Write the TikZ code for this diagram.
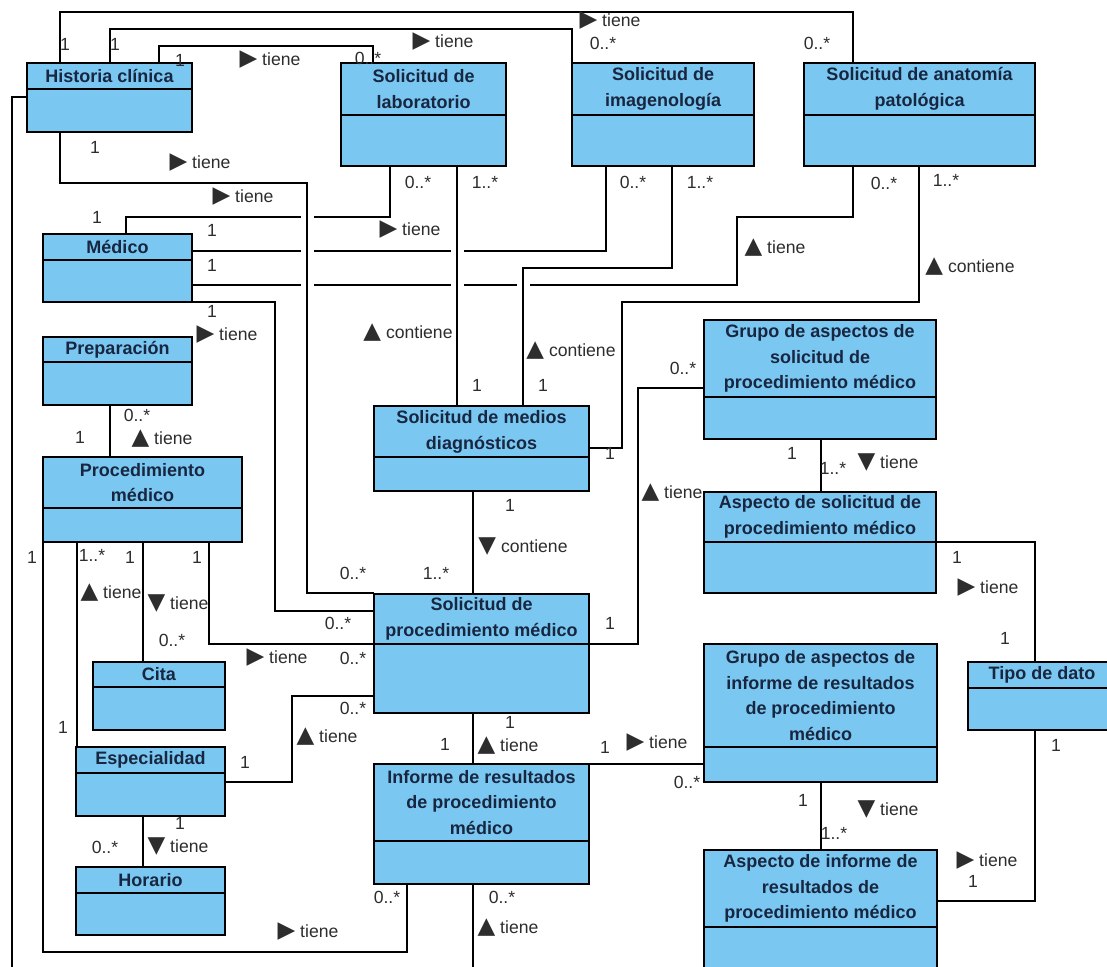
\documentclass[tikz,border=0pt]{standalone}
\usepackage{fontspec}
\setmainfont{Liberation Sans}
\newfontfamily\trifont{DejaVu Sans}
\usetikzlibrary{calc}

\definecolor{clsblue}{RGB}{122,200,242}
\definecolor{clsink}{RGB}{24,38,64}
\definecolor{lblink}{RGB}{45,45,45}

\newcommand{\triR}{{\trifont\fontsize{11.5}{11.5}\selectfont\char"25B6}}
\newcommand{\triU}{{\trifont\fontsize{11.5}{11.5}\selectfont\char"25B2}}
\newcommand{\triD}{{\trifont\fontsize{11.5}{11.5}\selectfont\char"25BC}}

% name, x1, y1, x2, y2, y of divider, title
\newcommand{\umlclass}[7]{%
  \node[clsbox, minimum width={(#4-#2)*0.5pt}, minimum height={(#5-#3)*0.5pt}] (#1) at (#2,#3) {};
  \draw[clsline] (#1.west |- 0,#6) -- (#1.east |- 0,#6);
  \node[clstitle] (#1-t) at ({(#2+#4)/2},{(#3+#6)/2}) {#7};
}

\tikzset{
  clsbox/.style={draw=black, fill=clsblue, line width=1pt, anchor=north west,
    inner sep=0pt, outer sep=0pt},
  clsline/.style={line width=1pt},
  clstitle/.style={align=center, text=clsink, inner sep=0pt,
    font=\fontsize{9}{12.9}\selectfont\bfseries},
  lnk/.style={line width=0.9pt},
  mult/.style={text=lblink, inner sep=0pt, font=\fontsize{8.8}{10}\selectfont},
  verb/.style={text=lblink, inner sep=0pt, font=\fontsize{8.8}{10}\selectfont},
}

\begin{document}
\begin{tikzpicture}[x=0.5pt, y=-0.5pt]
  \useasboundingbox (0,0) rectangle (1107,967);
  \fill[white] (0,0) rectangle (1107,967);
  \clip (0,0) rectangle (1107,967);

  % classes
  \umlclass{hc}{27}{63}{192}{132}{89}{Historia clínica}
  \umlclass{solLab}{341}{63}{506}{166}{115}{Solicitud de\\laboratorio}
  \umlclass{solImg}{572}{63}{754}{166}{115}{Solicitud de\\imagenología}
  \umlclass{solAnat}{804}{63}{1035}{166}{115}{Solicitud de anatomía\\patológica}
  \umlclass{medico}{43}{234}{192}{302}{260}{Médico}
  \umlclass{prep}{43}{337}{192}{405}{362}{Preparación}
  \umlclass{procMed}{43}{457}{242}{542}{508}{Procedimiento\\médico}
  \umlclass{solMed}{374}{406}{589}{491}{457}{Solicitud de medios\\diagnósticos}
  \umlclass{grpSol}{704}{320}{936}{439}{397}{Grupo de aspectos de\\solicitud de\\procedimiento médico}
  \umlclass{aspSol}{704}{492}{936}{593}{542}{Aspecto de solicitud de\\procedimiento médico}
  \umlclass{solProc}{374}{594}{589}{713}{644}{Solicitud de\\procedimiento médico}
  \umlclass{cita}{93}{662}{225}{730}{687}{Cita}
  \umlclass{espec}{76}{747}{225}{816}{773}{Especialidad}
  \umlclass{horario}{76}{867}{225}{935}{893}{Horario}
  \umlclass{informe}{374}{764}{589}{884}{841}{Informe de resultados\\de procedimiento\\médico}
  \umlclass{grpInf}{704}{644}{937}{782}{747}{Grupo de aspectos de\\informe de resultados\\de procedimiento\\médico}
  \umlclass{aspInf}{704}{850}{937}{1000}{927}{Aspecto de informe de\\resultados de\\procedimiento médico}
  \umlclass{tipoDato}{968}{662}{1116}{730}{688}{Tipo de dato}

  % Historia clinica
  \draw[lnk] (hc.north -| 60,0) |- (853,12) -- (solAnat.north -| 853,0);
  \draw[lnk] (hc.north -| 110,0) |- (572,29) -- (solImg.north west);
  \draw[lnk] (hc.north -| 159,0) |- (373,46) -- (solLab.north -| 373,0);
  \draw[lnk] (hc.south -| 60,0) |- (307,183) |- (solProc.west |- 0,593);
  \draw[lnk] (hc.west |- 0,97) -| (12,990);

  % Medico (gaps where lines cross)
  \draw[lnk] (medico.north -| 126,0) |- (301,217) (314,217) -| (solLab.south -| 390,0);
  \draw[lnk] (medico.east |- 0,251) -- (301,251) (314,251) -- (451,251)
    (464,251) -| (solImg.south -| 606,0);
  \draw[lnk] (medico.east |- 0,285) -- (301,285) (314,285) -- (451,285)
    (464,285) -- (517,285) (530,285) -| (737,217) -| (solAnat.south -| 853,0);
  \draw[lnk] (medico.south east) -| (275,611) -- (solProc.west |- 0,611);

  % solicitudes -> medios diagnosticos
  \draw[lnk] (solLab.south -| 457,0) -- (solMed.north -| 457,0);
  \draw[lnk] (solImg.south -| 672,0) |- (523,268) -- (solMed.north -| 523,0);
  \draw[lnk] (solAnat.south -| 919,0) |- (622,302) |- (solMed.east |- 0,448);
  \draw[lnk] (solMed.south -| 473,0) -- (solProc.north -| 473,0);

  % solicitud de procedimiento / informe
  \draw[lnk] (solProc.east |- 0,644) -| (638,388) -- (grpSol.west |- 0,388);
  \draw[lnk] (solProc.south -| 473,0) -- (informe.north -| 473,0);
  \draw[lnk] (grpSol.south -| 821,0) -- (aspSol.north -| 821,0);
  \draw[lnk] (aspSol.east |- 0,542) -| (tipoDato.north -| 1035,0);
  \draw[lnk] (tipoDato.south -| 1035,0) |- (aspInf.east |- 0,901);
  \draw[lnk] (informe.east |- 0,764) -- (grpInf.west |- 0,764);
  \draw[lnk] (grpInf.south -| 821,0) -- (aspInf.north -| 821,0);
  \draw[lnk] (informe.south -| 473,0) -- (473,990);

  % procedimiento medico
  \draw[lnk] (prep.south -| 110,0) -- (procMed.north -| 110,0);
  \draw[lnk] (procMed.south west) |- (407,952) -- (informe.south -| 407,0);
  \draw[lnk] (procMed.south -| 77,0) -- (espec.north -| 77,0);
  \draw[lnk] (procMed.south -| 143,0) -- (cita.north -| 143,0);
  \draw[lnk] (procMed.south -| 209,0) |- (solProc.west |- 0,644);
  \draw[lnk] (espec.east |- 0,782) -| (292,696) -- (solProc.west |- 0,696);
  \draw[lnk] (espec.south -| 143,0) -- (horario.north -| 143,0);

  % multiplicities
  \foreach \x/\y/\t [count=\i] in {
    65/44/1, 115/44/1, 180/60/1, 368/58/0..*, 603/43/0..*, 817/43/0..*,
    418/182/0..*, 485/182/1..*, 633/182/0..*, 700/182/1..*, 884/183/0..*, 946/180/1..*,
    95/147/1, 97/217/1, 212/230/1, 212/265/1, 212/311/1,
    477/385/1, 543/385/1, 683/368/0..*, 610/453/1,
    510/505/1, 353/573/0..*, 436/573/1..*, 338/623/0..*, 610/623/1,
    137/415/0..*, 80/437/1,
    32/557/1, 92/555/1..*, 130/557/1, 197/557/1,
    172/640/0..*, 353/658/0..*, 353/708/0..*, 63/727/1, 245/762/1,
    105/847/0..*, 180/823/1,
    510/722/1, 445/744/1, 605/747/1, 687/782/0..*,
    387/897/0..*, 502/897/0..*,
    792/453/1, 833/468/1..*, 957/557/1, 1005/638/1,
    1056/745/1, 803/800/1, 834/833/1..*, 973/881/1}
    \node[mult] (mult\i) at (\x,\y) {\t};

  % association names
  \foreach \x/\y/\s/\t [count=\i] in {
    270/60/\triR/tiene, 443/42/\triR/tiene, 610/21/\triR/tiene,
    200/163/\triR/tiene, 243/197/\triR/tiene, 410/230/\triR/tiene,
    775/248/\triU/tiene, 970/267/\triU/contiene,
    227/335/\triR/tiene, 408/333/\triU/contiene, 571/351/\triU/contiene,
    672/493/\triU/tiene, 523/547/\triD/contiene,
    162/439/\triU/tiene, 111/593/\triU/tiene, 178/604/\triD/tiene,
    277/658/\triR/tiene, 327/737/\triU/tiene, 178/847/\triD/tiene,
    308/932/\triR/tiene, 508/746/\triU/tiene, 657/743/\triR/tiene, 508/928/\triU/tiene,
    888/463/\triD/tiene, 988/588/\triR/tiene, 888/810/\triD/tiene, 987/861/\triR/tiene}
    \node[verb] (verb\i) at (\x,\y) {\s\ \t};
\end{tikzpicture}
\end{document}
